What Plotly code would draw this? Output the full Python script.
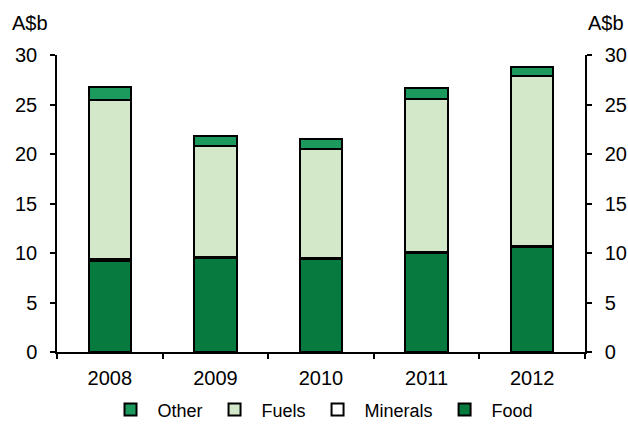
import plotly.graph_objs as go

years=['2008','2009','2010','2011','2012']
food=[9.2,9.5,9.4,10.0,10.6]
minerals=[0.15,0.1,0.1,0.1,0.1]
fuels=[16.15,11.2,11.0,15.5,17.2]
other=[1.3,1.0,1.0,1.1,0.9]

series=[('Food',food,'#077B3F'),('Minerals',minerals,'#FFFFFF'),
		('Fuels',fuels,'#D3E8C8'),('Other',other,'#1C9A5E')]

traces=[]
for name,vals,col in series:
	traces.append(go.Bar(x=years,y=vals,name=name,
		marker=dict(color=col,line=dict(color='black',width=2)),width=0.4))
# invisible trace so the right-hand axis gets drawn
traces.append(go.Scatter(x=years,y=food,yaxis='y2',mode='markers',
	marker=dict(opacity=0),showlegend=False,hoverinfo='skip'))

fnt=dict(family='Liberation Sans, Arial, sans-serif',size=20,color='black')
lfnt=dict(fnt,size=18)
yax=dict(range=[0,30],dtick=5,showgrid=False,zeroline=False,showline=True,
		linecolor='black',linewidth=1.5,ticks='outside',ticklen=5,tickwidth=1.5,
		tickcolor='black',tickfont=fnt,automargin=False,ticklabelstandoff=9)

fig=go.Figure(data=traces)
fig.update_layout(
	barmode='stack',
	width=628,height=441,
	plot_bgcolor='white',paper_bgcolor='white',
	font=fnt,
	margin=dict(l=57,r=43,t=55,b=75),
	xaxis=dict(showline=True,linecolor='black',linewidth=1.5,ticks='outside',
		tickson='boundaries',ticklen=5,tickwidth=1.5,tickcolor='black',tickfont=fnt,
		showgrid=False,automargin=False,ticklabelstandoff=7),
	yaxis=yax,
	yaxis2=dict(yax,overlaying='y',side='right'),
	legend=dict(orientation='h',x=0.5,xanchor='center',y=-0.195,yanchor='middle',
		traceorder='reversed',font=lfnt,itemwidth=44,tracegroupgap=0),
	annotations=[dict(text='A$b',x=0,y=1,xref='paper',yref='paper',xshift=-47,yshift=32,
			showarrow=False,font=fnt,xanchor='left',yanchor='middle'),
		dict(text='A$b',x=1,y=1,xref='paper',yref='paper',xshift=41,yshift=32,
			showarrow=False,font=fnt,xanchor='right',yanchor='middle')]
)
# drop the default page margin so the figure fills the window exactly
fig.write_html('out.html',config={'displayModeBar':False},
	post_script="document.body.style.margin='0';")
